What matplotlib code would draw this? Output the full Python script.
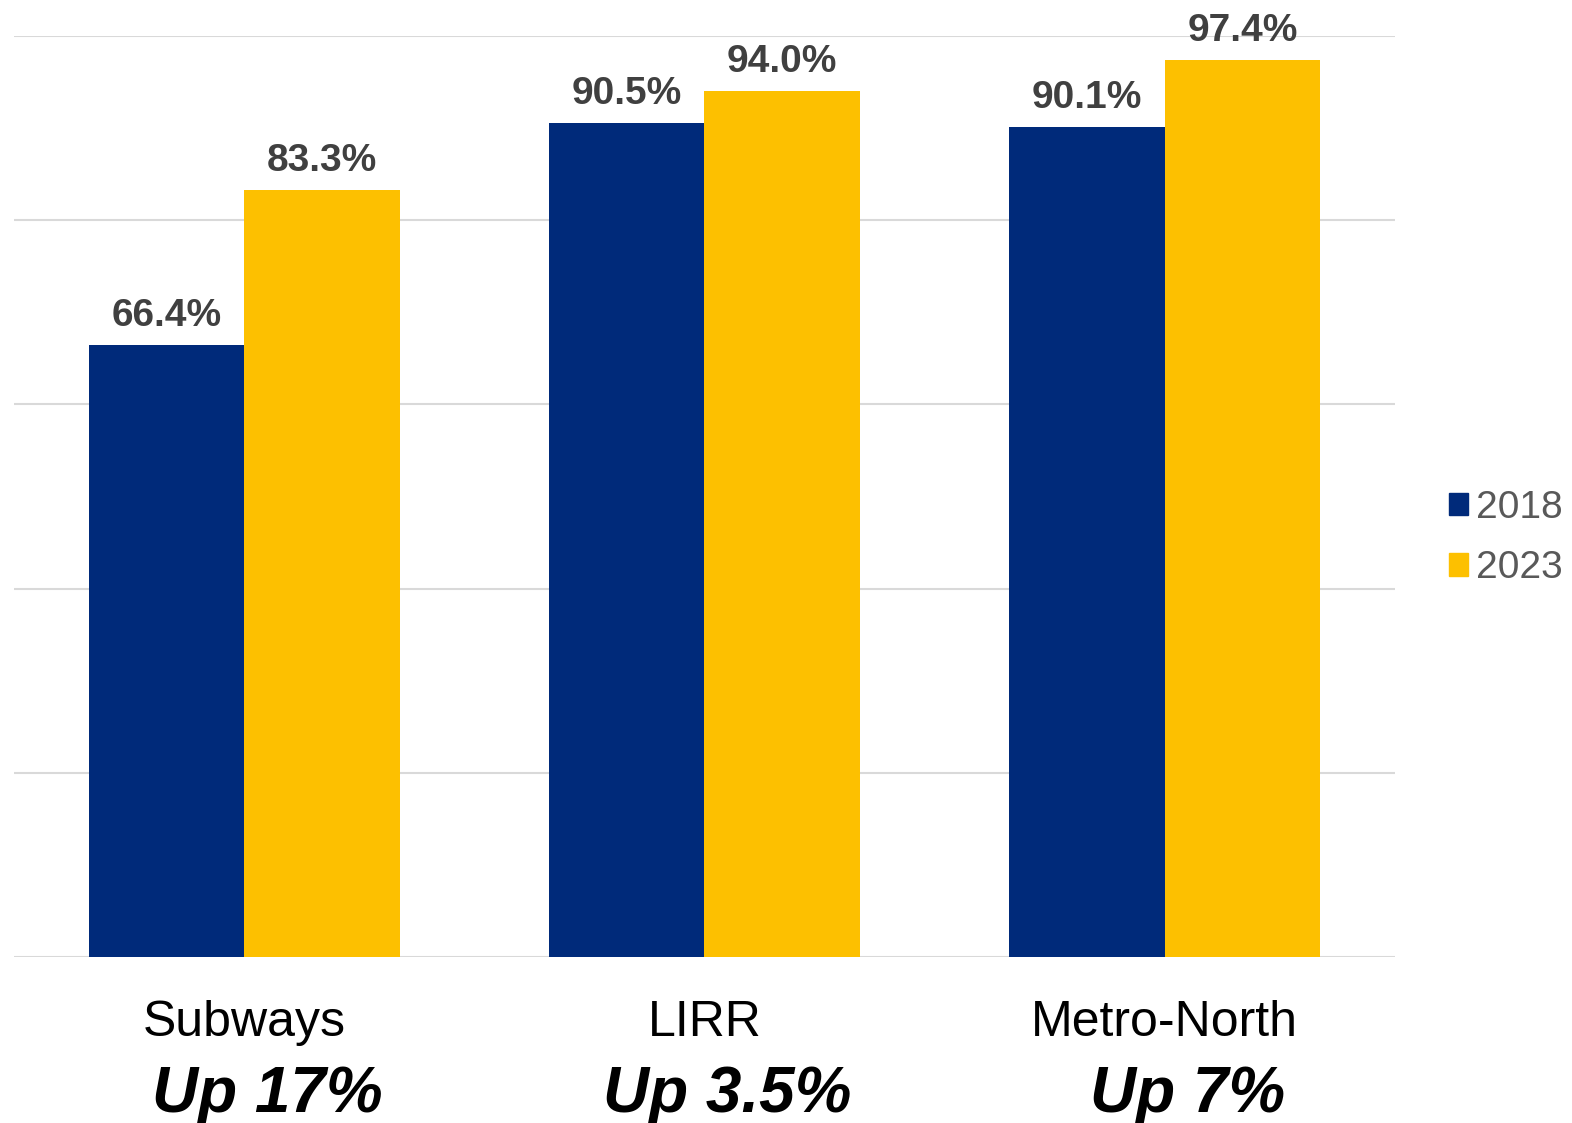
import matplotlib
matplotlib.use("Agg")
import matplotlib.pyplot as plt
import numpy as np
from matplotlib.patches import Patch

plt.rcParams['font.family'] = ['Liberation Sans', 'DejaVu Sans']

# data
categories = ["Subways", "LIRR", "Metro-North"]
changes = ["Up 17%", "Up 3.5%", "Up 7%"]
years = ["2018", "2023"]
vals_2018 = [66.4, 90.5, 90.1]
vals_2023 = [83.3, 94.0, 97.4]

navy = "#002A7A"
gold = "#FDC000"

fig = plt.figure(figsize=(15.72, 11.23), dpi=100)
ax = fig.add_axes([14 / 1572, 1 - 957 / 1123, (1395 - 14) / 1572, (957 - 36) / 1123])

x = np.arange(len(categories))
w = 0.3375
b1 = ax.bar(x - w / 2, vals_2018, w, color=navy, zorder=3)
b2 = ax.bar(x + w / 2, vals_2023, w, color=gold, zorder=3)

for bars in (b1, b2):
    ax.bar_label(bars, labels=["%.1f%%" % v for v in bars.datavalues], padding=8,
                 fontsize=28, fontweight="bold", color="#404040")

ax.set_xlim(-0.5, 2.5)
ax.set_ylim(0, 100)
ax.set_yticks(np.arange(0, 101, 20))
ax.yaxis.grid(True, color="#d9d9d9", linewidth=1.5, zorder=0)
ax.set_xticks([])
ax.tick_params(left=False, labelleft=False)
for s in ax.spines.values():
    s.set_visible(False)

# category labels below the axis
trans = matplotlib.transforms.blended_transform_factory(ax.transData, fig.transFigure)
for xi, cat, ch in zip(x, categories, changes):
    ax.text(xi, 1 - 1036 / 1123, cat, transform=trans, ha="center", va="baseline",
            fontsize=36, color="black", clip_on=False)
    ax.text(xi + 0.05, 1 - 1112 / 1123, ch, transform=trans, ha="center", va="baseline",
            fontsize=46, fontweight="bold", fontstyle="italic", color="black", clip_on=False)

handles = [Patch(color=navy), Patch(color=gold)]
fig.legend(handles, years, loc="center left", bbox_to_anchor=(1449 / 1572, 1 - 538 / 1123),
           frameon=False, fontsize=28, handlelength=0.5, handleheight=0.5,
           handletextpad=0.2, borderpad=0, borderaxespad=0, labelspacing=0.63,
           labelcolor="#595959")

fig.savefig("out.png", dpi=100)
